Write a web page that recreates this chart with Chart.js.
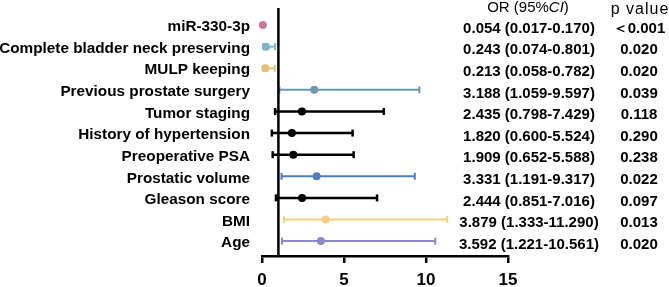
<!DOCTYPE html>
<html>
<head>
<meta charset="utf-8">
<script src="https://cdn.jsdelivr.net/npm/chart.js@4"></script>
<style>
  body { margin: 0; background: #fff; }
  #container { display: block; }
</style>
</head>
<body>
<canvas id="container" width="669" height="287"></canvas>
<script>
let ctx = document.getElementById('container').getContext('2d');

let labels = ['miR-330-3p', 'Complete bladder neck preserving', 'MULP keeping', 'Previous prostate surgery',
  'Tumor staging', 'History of hypertension', 'Preoperative PSA', 'Prostatic volume',
  'Gleason score', 'BMI', 'Age'];
let orVals = [0.054, 0.243, 0.213, 3.188, 2.435, 1.820, 1.909, 3.331, 2.444, 3.879, 3.592];
let lower  = [0.017, 0.074, 0.058, 1.059, 0.798, 0.600, 0.652, 1.191, 0.851, 1.333, 1.221];
let upper  = [0.170, 0.801, 0.782, 9.597, 7.429, 5.524, 5.588, 9.317, 7.016, 11.290, 10.561];
let pVals  = ['＜0.001', '0.020', '0.020', '0.039', '0.118', '0.290', '0.238', '0.022', '0.097', '0.013', '0.020'];
let xTicks = [0, 5, 10, 15];

let colorHex = ['#CB7A94', '#7DB4CC', '#E4C07A', '#6A98AF', '#000000', '#000000', '#000000',
  '#4C7EC3', '#000000', '#F8CF7C', '#8D87CB'];

let font = '"Liberation Sans", Arial, sans-serif';
let fmt = (v) => v.toFixed(3);

let datasets = [];

// reference line at OR = 1
datasets.push({
  type: 'line',
  data: [{x: 1, y: -0.79}, {x: 1, y: 10.69}],
  borderColor: '#000',
  borderWidth: 2.5,
  pointRadius: 0,
  clip: false
});

labels.forEach((l, i) => {
  let w = colorHex[i] === '#000000' ? 2.5 : 2;
  datasets.push({
    type: 'line',
    data: [{x: lower[i], y: i}, {x: upper[i], y: i}],
    borderColor: colorHex[i],
    borderWidth: w,
    pointStyle: 'line',
    rotation: 90,
    pointRadius: i === 0 ? 0 : 3.5,
    pointBorderColor: colorHex[i],
    pointBorderWidth: w,
    clip: false
  });
});

datasets.push({
  type: 'scatter',
  data: orVals.map((v, i) => ({x: v, y: i})),
  pointBackgroundColor: colorHex,
  pointBorderColor: colorHex,
  pointRadius: 4,
  pointBorderWidth: 0,
  clip: false
});

let sideText = {
  id: 'sideText',
  afterDraw(chart) {
    let c = chart.ctx;
    let ys = chart.scales.y;
    c.save();
    c.fillStyle = '#000';
    c.textBaseline = 'middle';
    c.textAlign = 'center';
    c.font = 'bold 15px ' + font;
    labels.forEach((l, i) => {
      let y = ys.getPixelForValue(i) + 3.5;
      c.fillText(fmt(orVals[i]) + ' (' + fmt(lower[i]) + '-' + fmt(upper[i]) + ')', 529, y);
      c.fillText(pVals[i], 639, y);
    });

    // header
    c.textAlign = 'left';
    let parts = [['OR (95%', '15px '], ['CI', 'italic 15px '], [')', '15px ']];
    let total = 0;
    parts.forEach(p => { c.font = p[1] + font; total += c.measureText(p[0]).width; });
    let x = 528 - total / 2;
    parts.forEach(p => {
      c.font = p[1] + font;
      c.fillText(p[0], x, 8);
      x += c.measureText(p[0]).width;
    });
    c.textAlign = 'center';
    c.font = '16px ' + font;
    c.letterSpacing = '1px';
    c.fillText('p value', 640, 10);
    c.restore();
  }
};

let myChart = new Chart(ctx, {
  type: 'scatter',
  data: { datasets: datasets },
  plugins: [sideText],
  options: {
    responsive: false,
    animation: false,
    layout: { padding: { top: 8, right: 161, left: 0, bottom: 0 } },
    plugins: {
      legend: { display: false },
      tooltip: { enabled: false }
    },
    scales: {
      x: {
        type: 'linear',
        min: 0,
        max: 15,
        afterBuildTicks: (scale) => { scale.ticks = xTicks.map(v => ({value: v})); },
        afterFit: (scale) => { scale.height = 31; scale.paddingLeft = 0; scale.paddingRight = 0; },
        border: { color: '#000', width: 2.5 },
        grid: { drawOnChartArea: false, drawTicks: true, tickLength: 7, color: '#000', lineWidth: 2.5 },
        ticks: { color: '#000', padding: 7, font: { family: font, size: 17, weight: 'bold' } }
      },
      y: {
        type: 'linear',
        reverse: true,
        min: -0.79,
        max: 10.69,
        afterBuildTicks: (scale) => { scale.ticks = labels.map((l, i) => ({value: i})); },
        afterFit: (scale) => { scale.width = 262; scale.paddingTop = 0; scale.paddingBottom = 0; },
        border: { display: false },
        grid: { display: false, drawTicks: false },
        ticks: {
          color: '#000',
          padding: 12,
          labelOffset: 2,
          autoSkip: false,
          font: { family: font, size: 15.3, weight: 'bold' },
          callback: (v) => labels[v] ?? ''
        }
      }
    }
  }
});
</script>
</body>
</html>
